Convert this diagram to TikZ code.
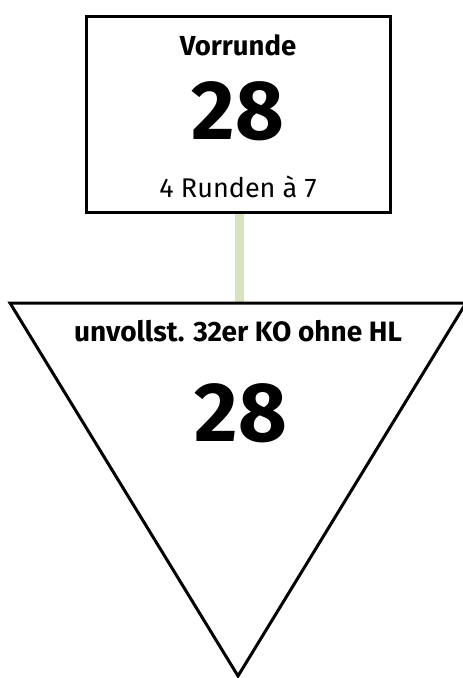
\documentclass[tikz,border=0pt]{standalone}
\usepackage{fontspec}
\setmainfont{Fira Sans}
\usetikzlibrary{positioning, calc}
\definecolor{linkgreen}{HTML}{D7E4BD}

\begin{document}
\begin{tikzpicture}[
    x=1pt, y=-1pt,
    % Define box styles
    stage/.style={
        rectangle,
        draw=black,
        line width=3pt,
        minimum width=304pt,
        minimum height=196pt,
        inner sep=0pt
    },
    title/.style={
        font=\fontsize{27.5}{30}\selectfont\bfseries,
        inner sep=0pt
    },
    count/.style={
        font=\fontsize{84}{88}\selectfont\bfseries,
        inner sep=0pt
    },
    note/.style={
        font=\fontsize{27}{30}\selectfont,
        inner sep=0pt
    },
    link/.style={
        draw=linkgreen,
        line width=9pt
    }
]
    \useasboundingbox (0, 0) rectangle (463, 678);

    % =================================================================
    % --- Vorrunde box ---
    % =================================================================
    \node[stage] (vor_box) at (238, 114) {};
    \node[title] (vor_title) at (238, 45) {Vorrunde};
    \node[count] (vor_count) at (238, 111) {28};
    \node[note] (vor_note) at (238, 187) {4 Runden à 7};

    % =================================================================
    % --- KO triangle ---
    % =================================================================
    \coordinate (ko_left) at (10, 303);
    \coordinate (ko_right) at (466, 303);
    \coordinate (ko_tip) at (238, 676);
    \coordinate (ko_top) at (239, 303);

    % Connector
    \draw[link] (vor_box.south -| ko_top) -- (ko_top);

    \draw[line width=3pt, line join=miter] (ko_left) -- (ko_right) -- (ko_tip) -- cycle;
    \node[title, font=\fontsize{28}{30}\selectfont\bfseries] (ko_title) at (238, 331) {unvollst. 32er KO ohne HL};
    \node[count] (ko_count) at (241, 413) {28};
\end{tikzpicture}
\end{document}
